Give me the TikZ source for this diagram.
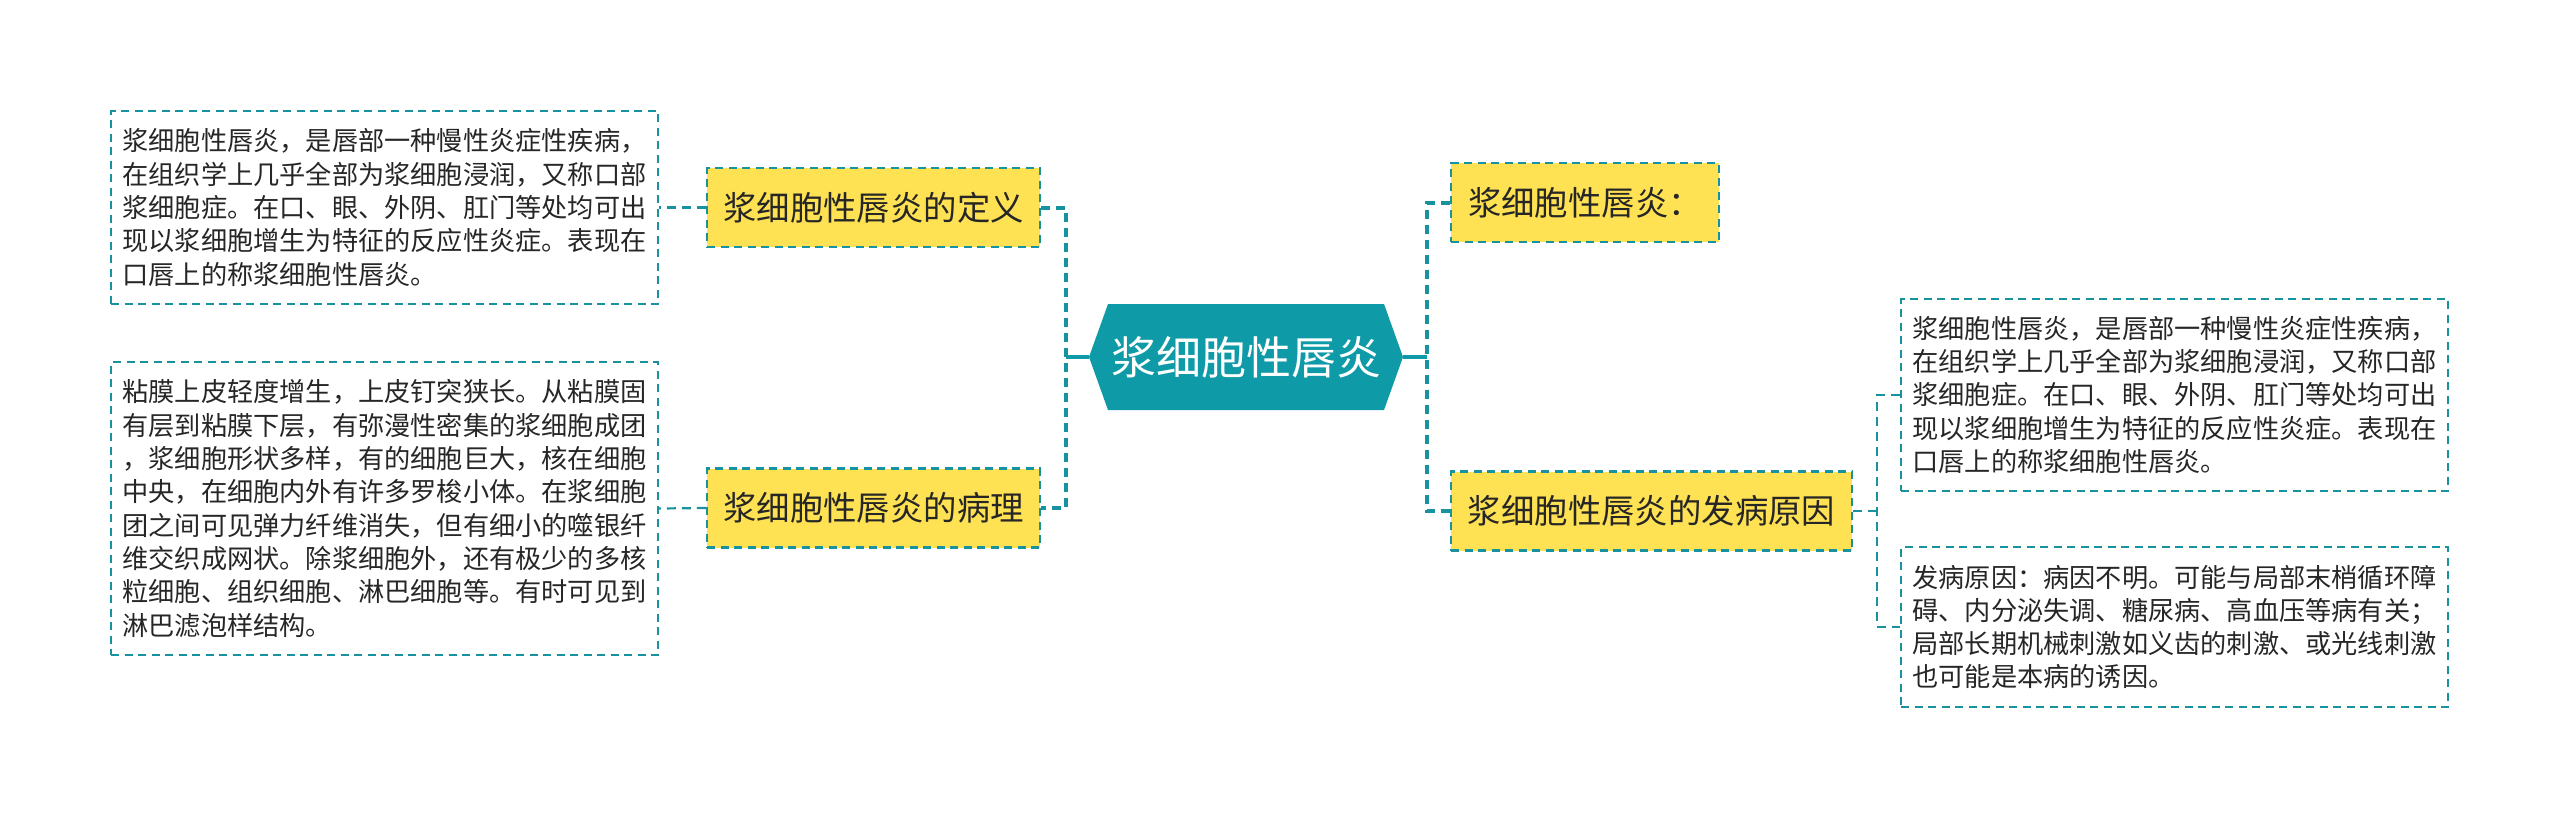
\documentclass[tikz,border=0pt]{standalone}
\usepackage{fontspec}
\setmainfont{Noto Sans CJK SC}
\definecolor{teal1}{HTML}{0E9AA7}
\definecolor{line1}{HTML}{17929E}
\definecolor{yel}{HTML}{FFE253}
\definecolor{txt}{HTML}{262626}
\begin{document}
\begin{tikzpicture}[x=1pt,y=-1pt,
 topic/.style={draw=line1, fill=yel, line width=2.2pt, dash pattern=on 8pt off 5.5pt, inner sep=0pt, minimum height=79pt, text=txt, font=\fontsize{33.4}{40}\selectfont},
 leaf/.style={draw=line1, line width=2.2pt, dash pattern=on 8pt off 5.5pt, inner xsep=11.5pt, inner ysep=0pt, text width=524pt, text=txt, font=\fontsize{26.2}{33.3}\selectfont, align=left},
 conn/.style={draw=line1, line width=4pt, dash pattern=on 9pt off 6pt},
 leafconn/.style={draw=line1, line width=2.2pt, dash pattern=on 9pt off 6pt},
 trunk/.style={draw=teal1, line width=4pt}]
\useasboundingbox (0,0) rectangle (2560,820);
\fill[white] (0,0) rectangle (2560,820);
% root hexagon
\fill[teal1] (1108,304) -- (1384,304) -- (1403,357) -- (1384,410) -- (1108,410) -- (1089,357) -- cycle;
\node[text=white, font=\fontsize{45}{50}\selectfont, inner sep=0pt] (root) at (1246,357) {浆细胞性唇炎};
\coordinate (rootL) at (1089,357);
\coordinate (rootR) at (1403,357);
% topics
\node[topic, minimum width=333pt] (t1) at (873.5,207.5) {浆细胞性唇炎的定义};
\node[topic, minimum width=333pt] (t2) at (873.5,508) {浆细胞性唇炎的病理};
\node[topic, minimum width=268pt] (t3) at (1585,202.5) {浆细胞性唇炎：};
\node[topic, minimum width=401pt] (t4) at (1651.5,511) {浆细胞性唇炎的发病原因};
% leaves
\node[leaf, minimum height=193pt] (l1) at (384.5,207.5) {浆细胞性唇炎，是唇部一种慢性炎症性疾病，\\在组织学上几乎全部为浆细胞浸润，又称口部\\浆细胞症。在口、眼、外阴、肛门等处均可出\\现以浆细胞增生为特征的反应性炎症。表现在\\口唇上的称浆细胞性唇炎。};
\node[leaf, minimum height=293pt] (l2) at (384.5,508.5) {粘膜上皮轻度增生，上皮钉突狭长。从粘膜固\\有层到粘膜下层，有弥漫性密集的浆细胞成团\\，浆细胞形状多样，有的细胞巨大，核在细胞\\中央，在细胞内外有许多罗梭小体。在浆细胞\\团之间可见弹力纤维消失，但有细小的噬银纤\\维交织成网状。除浆细胞外，还有极少的多核\\粒细胞、组织细胞、淋巴细胞等。有时可见到\\淋巴滤泡样结构。};
\node[leaf, minimum height=192pt] (l3) at (2174.5,395) {浆细胞性唇炎，是唇部一种慢性炎症性疾病，\\在组织学上几乎全部为浆细胞浸润，又称口部\\浆细胞症。在口、眼、外阴、肛门等处均可出\\现以浆细胞增生为特征的反应性炎症。表现在\\口唇上的称浆细胞性唇炎。};
\node[leaf, minimum height=160pt] (l4) at (2174.5,627) {发病原因：病因不明。可能与局部末梢循环障\\碍、内分泌失调、糖尿病、高血压等病有关；\\局部长期机械刺激如义齿的刺激、或光线刺激\\也可能是本病的诱因。};
% junctions
\coordinate (jl) at (1066,357);
\coordinate (jr) at (1427,357);
\coordinate (jr4) at (1877,511);
% connectors
\draw[trunk] (rootL) -- (jl);
\draw[trunk] (rootR) -- (jr);
\draw[conn] (t1.east) -- (jl |- t1.east) -- (jl |- t2.east) -- (t2.east);
\draw[conn] (t3.west) -- (jr |- t3.west) -- (jr |- t4.west) -- (t4.west);
\draw[leafconn] (t1.west) -- (l1.east);
\draw[leafconn] (t2.west) -- (l2.east);
\draw[leafconn] (t4.east) -- (jr4);
\draw[leafconn] (l3.west) -- (jr4 |- l3.west) -- (jr4 |- l4.west) -- (l4.west);
\end{tikzpicture}
\end{document}
